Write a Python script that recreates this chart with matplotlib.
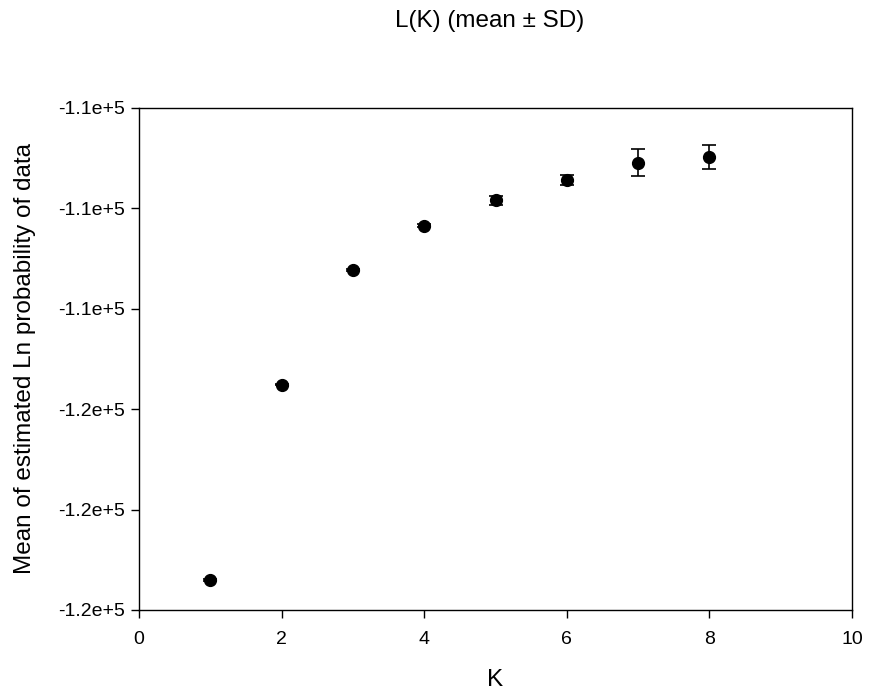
import matplotlib
matplotlib.use("Agg")
import matplotlib.pyplot as plt
from matplotlib.ticker import FuncFormatter

# Data
K = [1, 2, 3, 4, 5, 6, 7, 8]
mean_lnp = [-119400, -115510, -113230, -112350, -111840, -111430, -111090, -110980]
sd_lnp = [15, 15, 20, 30, 85, 95, 270, 240]

x_ticks = [0, 2, 4, 6, 8, 10]
y_ticks = [-120000, -118000, -116000, -114000, -112000, -110000]

plt.rcParams['font.family'] = ['Liberation Sans', 'DejaVu Sans']

fig = plt.figure(figsize=(8.75, 6.96), dpi=100)
ax = fig.add_axes([139/875, 1 - 610/696, (852-139)/875, (610-108)/696])

ax.errorbar(K, mean_lnp, yerr=sd_lnp, fmt='o', color='black', ms=8.5,
            ecolor='black', elinewidth=1.2, capsize=5, capthick=1.2)

ax.set_xlim(0, 10)
ax.set_ylim(-120000, -110000)
ax.set_xticks(x_ticks)
ax.set_yticks(y_ticks)

def fmt(v, pos):
    s = f"{v:.1e}"
    mant, exp = s.split('e')
    return f"{mant}e{exp[0]}{int(exp[1:])}"

ax.yaxis.set_major_formatter(FuncFormatter(fmt))
ax.tick_params(direction='out', length=6, width=1, labelsize=14,
               top=False, right=False)
ax.tick_params(axis='x', pad=9)
ax.tick_params(axis='y', pad=4)
for sp in ax.spines.values():
    sp.set_linewidth(1)

ax.set_xlabel('K', fontsize=17.5, labelpad=15)
ax.set_ylabel('Mean of estimated Ln probability of data', fontsize=17.5, labelpad=16)
fig.text(490/875, 1 - 21/696, 'L(K) (mean \u00b1 SD)', fontsize=17.5,
         ha='center', va='center')

fig.savefig('out.png', dpi=100)
